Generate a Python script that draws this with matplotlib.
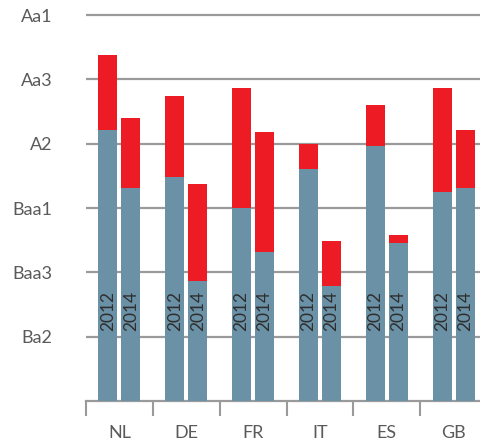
import matplotlib
matplotlib.use("Agg")
import matplotlib.pyplot as plt
import numpy as np

plt.rcParams['font.family'] = ['Lato', 'DejaVu Sans']

# rating scale, one step per gridline (2 notches)
rating_labels = ["Ba2", "Baa3", "Baa1", "A2", "Aa3", "Aa1"]
rating_levels = [1, 2, 3, 4, 5, 6]

countries = ["NL", "DE", "FR", "IT", "ES", "GB"]
years = ["2012", "2014"]

# blue part (lower rating) and red top (higher rating), in scale units
low_2012 = [4.21, 3.48, 3.00, 3.61, 3.97, 3.25]
high_2012 = [5.38, 4.74, 4.87, 4.00, 4.60, 4.87]
low_2014 = [3.31, 1.87, 2.32, 1.79, 2.46, 3.31]
high_2014 = [4.40, 3.37, 4.18, 2.49, 2.58, 4.21]

blue = "#6b91a6"
red = "#ed1c24"
grey = "#9a9a9a"
text_grey = "#5a5a5a"

fig = plt.figure(figsize=(4.81, 4.41), dpi=100)
ax = fig.add_axes([86 / 481, 40 / 441, 401 / 481, 398.7 / 441])

x = np.arange(len(countries))
w = 0.285
off = 0.172

for xs, low, high in [(x - off, low_2012, high_2012), (x + off, low_2014, high_2014)]:
    low = np.array(low)
    high = np.array(high)
    ax.bar(xs, low, width=w, color=blue, zorder=3)
    ax.bar(xs, high - low, bottom=low, width=w, color=red, zorder=3)

for i in range(len(countries)):
    for xs, yr in [(x[i] - off, years[0]), (x[i] + off, years[1])]:
        ax.text(xs, 1.4, yr, rotation=90, ha="center", va="center",
                fontsize=12.5, color="#2e2e2e", zorder=4)

ax.set_xlim(-0.5, len(countries) - 0.5)
ax.set_ylim(0, 6.2)

ax.set_yticks(rating_levels)
ax.set_yticklabels(rating_labels)
ax.tick_params(axis="y", length=0, pad=24, labelsize=13, labelcolor=text_grey)
ax.yaxis.grid(True, color=grey, linewidth=1.6, zorder=0)
ax.set_axisbelow(True)

ax.set_xticks(x)
ax.set_xticklabels(countries)
ax.set_xticks(np.arange(len(countries) + 1) - 0.5, minor=True)
ax.tick_params(axis="x", which="major", length=0, pad=17, labelsize=13,
               labelcolor=text_grey)
ax.tick_params(axis="x", which="minor", length=11, width=1.5, color=grey,
               direction="out")

for s in ["top", "right", "left"]:
    ax.spines[s].set_visible(False)
ax.spines["bottom"].set_color(grey)
ax.spines["bottom"].set_linewidth(1.6)

fig.savefig("out.png", dpi=100)
